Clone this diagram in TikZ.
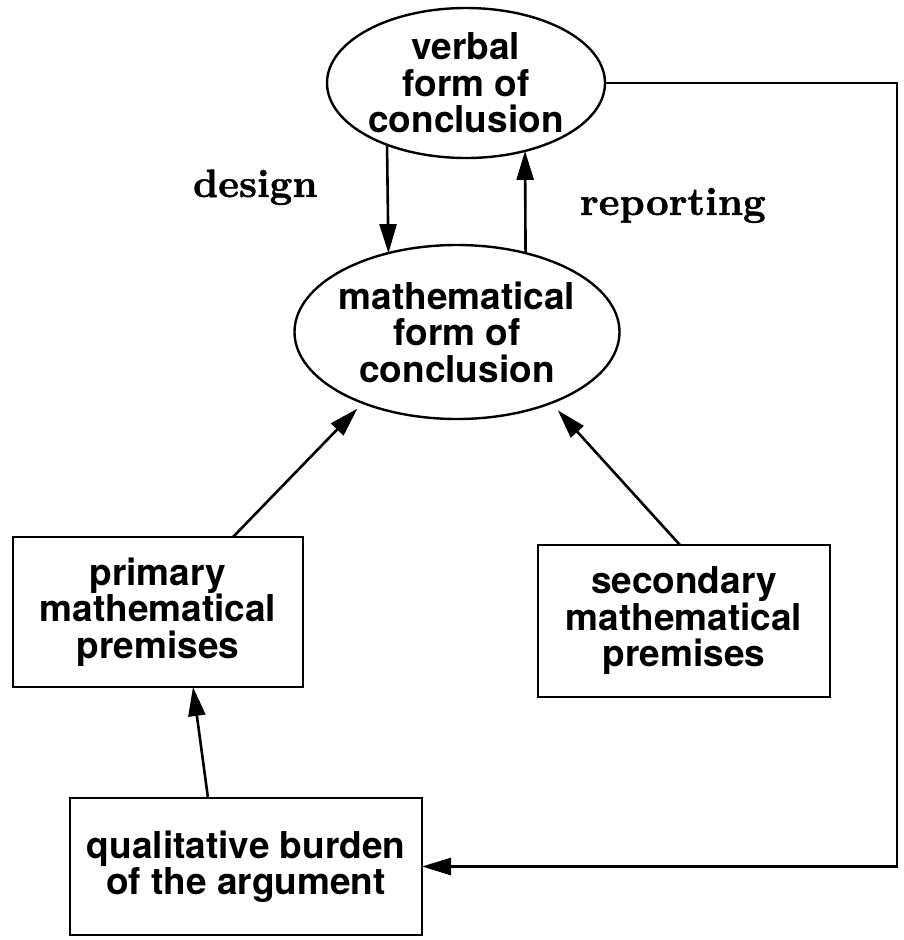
\documentclass[tikz,border=0pt]{standalone}
\usepackage{fontspec}
\newfontfamily\hv{TeX Gyre Heros}
\newfontfamily\serifheavy{lmroman10-bold.otf}[FakeBold=1.2]
\usetikzlibrary{shapes.geometric,arrows.meta}
\begin{document}
\begin{tikzpicture}[x=1pt,y=-1pt,
  every node/.style={inner sep=0pt, outer sep=0pt},
  lbl/.style={font=\hv\bfseries\fontsize{37}{36.5}\selectfont, align=center},
  oval/.style={lbl, draw, line width=2.4pt, ellipse, inner sep=-30pt},
  box/.style={lbl, draw, line width=2.6pt, rectangle},
  arr/.style={line width=2.6pt, -{Triangle[length=29pt,width=17pt]}},
  tag/.style={font=\serifheavy\fontsize{39.5}{40}\selectfont, anchor=base west}]
\useasboundingbox (0,0) rectangle (903,940);

\node[oval, minimum width=278pt, minimum height=150pt] (verbal) at (466,83) {verbal\\form of\\conclusion};
\node[oval, minimum width=325pt, minimum height=174pt] (math) at (457,332) {mathematical\\form of\\conclusion};
\node[box, minimum width=290pt, minimum height=150pt] (primary) at (158,612) {primary\\mathematical\\premises};
\node[box, minimum width=292pt, minimum height=152pt] (secondary) at (684,621) {secondary\\mathematical\\premises};
\node[box, minimum width=352pt, minimum height=137pt] (qual) at (246,866.5) {qualitative burden\\of the argument};

\node[tag] (design) at (193,197) {design};
\node[tag] (reporting) at (580,215) {reporting};

\draw[arr] (verbal.218) -- (math.131);
\draw[arr] (math.49) -- (verbal.-49);
\draw[arr, shorten >=8pt] ([xshift=75pt]primary.north) -- (math.217);
\draw[arr, shorten >=10pt] ([xshift=-4pt]secondary.north) -- (math.-37);
\draw[arr] ([xshift=-38pt]qual.north) -- ([xshift=35pt]primary.south);
\draw[arr] (verbal.east) -- ++(292,0) |- (qual.east);
\end{tikzpicture}
\end{document}
